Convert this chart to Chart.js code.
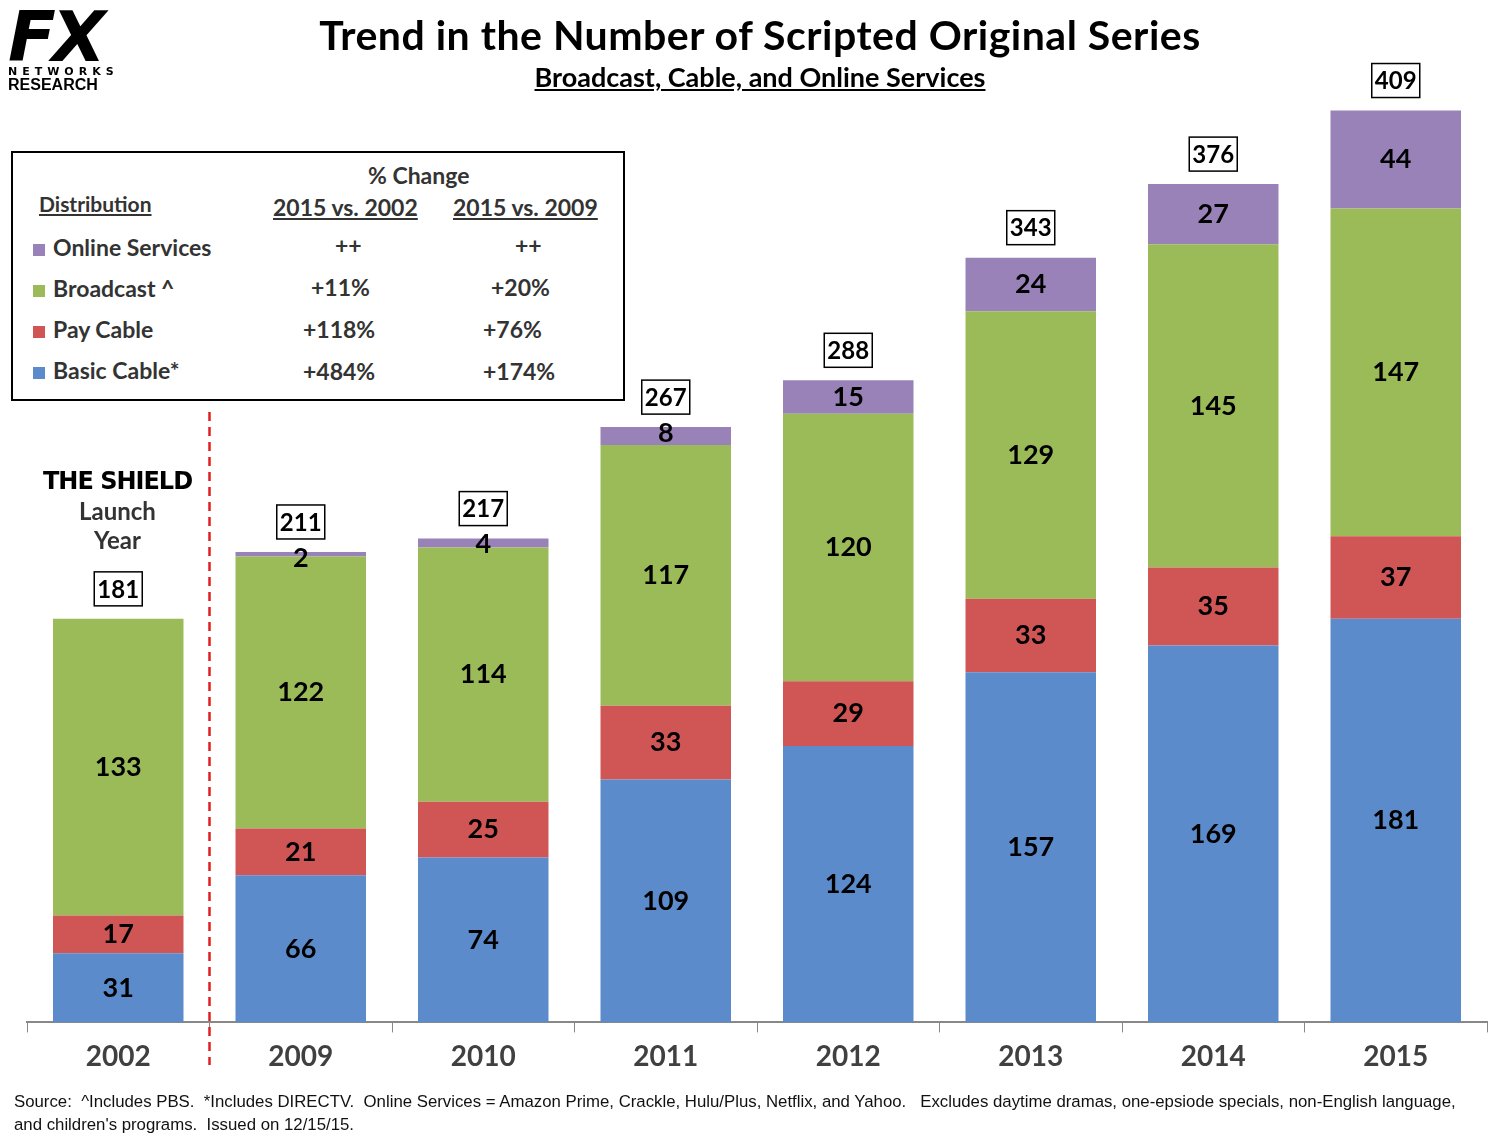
<!DOCTYPE html>
<html><head><meta charset="utf-8">
<script src="https://cdn.jsdelivr.net/npm/chart.js@4/dist/chart.umd.min.js"></script>
<style>
body{margin:0;width:1500px;height:1140px;background:#fff;font-family:Lato,"Open Sans",sans-serif;position:relative;overflow:hidden}
#c{position:absolute;left:0;top:0}
.abs{position:absolute}
#title{left:260px;width:1000px;top:10px;text-align:center;font-size:41px;font-weight:bold;color:#000;letter-spacing:0.5px}
#sub{left:260px;width:1000px;top:60px;text-align:center;font-size:27px;font-weight:bold;text-decoration:underline}
#logo{left:8px;top:2px;font-family:"DejaVu Sans";font-weight:900;line-height:1}
#tbl{left:11px;top:151px;width:610px;height:246px;border:2px solid #000;background:#fff;font-size:23px;font-weight:bold;color:#333}
#tbl div{position:absolute}
.u{text-decoration:underline}
.sq{display:inline-block;width:12px;height:12px;margin-right:8px}
#foot{left:14px;top:1090px;width:1480px;font-family:"Liberation Sans";font-size:16.8px;line-height:23px;color:#111}
#shield{left:30px;top:465px;width:175px;text-align:center;font-size:24px;font-weight:bold;color:#333;line-height:29px}
</style></head><body>
<canvas id="c" width="1500" height="1140"></canvas>
<div id="logo" class="abs"><div style="font-size:70px;letter-spacing:-4px;font-style:italic">FX</div><div style="font-size:11px;letter-spacing:5px;margin-top:-6px">NETWORKS</div><div style="font-size:16px;font-family:'Liberation Sans';font-weight:bold">RESEARCH</div></div>
<div id="title" class="abs">Trend in the Number of Scripted Original Series</div>
<div id="sub" class="abs">Broadcast, Cable, and Online Services</div>
<div id="tbl" class="abs">
<div style="left:355px;top:8px">% Change</div>
<div class="u" style="left:26px;top:38px;font-size:21px">Distribution</div>
<div class="u" style="left:260px;top:40px">2015 vs. 2002</div>
<div class="u" style="left:440px;top:40px">2015 vs. 2009</div>
<div style="left:20px;top:80px"><span class="sq" style="background:#9982B8"></span>Online Services</div>
<div style="left:20px;top:121px"><span class="sq" style="background:#9BBB59"></span>Broadcast ^</div>
<div style="left:20px;top:162px"><span class="sq" style="background:#D05555"></span>Pay Cable</div>
<div style="left:20px;top:203px"><span class="sq" style="background:#5B8BCB"></span>Basic Cable*</div>
<div style="left:322px;top:78px">++</div><div style="left:502px;top:78px">++</div>
<div style="left:298px;top:120px">+11%</div><div style="left:478px;top:120px">+20%</div>
<div style="left:290px;top:162px">+118%</div><div style="left:470px;top:162px">+76%</div>
<div style="left:290px;top:204px">+484%</div><div style="left:470px;top:204px">+174%</div>
</div>
<div id="shield" class="abs"><span style="color:#000;font-family:'DejaVu Sans';font-weight:900;letter-spacing:-1px">THE SHIELD</span><br>Launch<br>Year</div>
<div id="foot" class="abs">Source:&nbsp; ^Includes PBS.&nbsp; *Includes DIRECTV.&nbsp; Online Services = Amazon Prime, Crackle, Hulu/Plus, Netflix, and Yahoo.&nbsp;&nbsp; Excludes daytime dramas, one-epsiode specials, non-English language,<br>and children's programs.&nbsp; Issued on 12/15/15.</div>
<script>
const years=["2002","2009","2010","2011","2012","2013","2014","2015"];
const basicCable=[31,66,74,109,124,157,169,181];
const payCable=[17,21,25,33,29,33,35,37];
const broadcast=[133,122,114,117,120,129,145,147];
const online=[0,2,4,8,15,24,27,44];
const totals=[181,211,217,267,288,343,376,409];

const labelPlugin={id:'lbl',afterDatasetsDraw(ch){
  const c=ch.ctx;c.save();
  c.font='bold 27px Lato';c.fillStyle='#000';c.textAlign='center';c.textBaseline='middle';
  ch.data.datasets.forEach((ds,di)=>{
    ch.getDatasetMeta(di).data.forEach((b,i)=>{
      const v=ds.data[i]; if(!v) return;
      const top=Math.min(b.y,b.base),bot=Math.max(b.y,b.base);
      let y=(top+bot)/2; if(bot-top<25) y=top+6;
      c.fillText(v,b.x,y);
    });
  });
  const m=ch.getDatasetMeta(3);
  c.font='bold 24px Lato';
  totals.forEach((t,i)=>{
    const b=m.data[i]; const yTop=ch.scales.y.getPixelForValue(t);
    const cy=yTop-30;
    c.fillStyle='#fff';c.fillRect(b.x-24,cy-17,48,34);
    c.strokeStyle='#000';c.lineWidth=1.5;c.strokeRect(b.x-24,cy-17,48,34);
    c.fillStyle='#000';c.fillText(t,b.x,cy+1);
  });
  const xs=ch.scales.x; const xd=(xs.getPixelForValue(0)+xs.getPixelForValue(1))/2;
  c.strokeStyle='#E02020';c.lineWidth=2.5;c.setLineDash([9,6]);
  c.beginPath();c.moveTo(xd,412);c.lineTo(xd,1065);c.stroke();
  c.restore();
}};

new Chart(document.getElementById('c'),{type:'bar',
 data:{labels:years,datasets:[
  {label:'Basic Cable*',data:basicCable,backgroundColor:'#5B8BCB'},
  {label:'Pay Cable',data:payCable,backgroundColor:'#D05555'},
  {label:'Broadcast ^',data:broadcast,backgroundColor:'#9BBB59'},
  {label:'Online Services',data:online,backgroundColor:'#9982B8'}]},
 options:{responsive:false,animation:false,
  layout:{padding:{left:27,right:13,top:86,bottom:58}},
  datasets:{bar:{barPercentage:0.715,categoryPercentage:1,borderWidth:0}},
  plugins:{legend:{display:false},tooltip:{enabled:false}},
  scales:{
   x:{stacked:true,grid:{offset:true,drawOnChartArea:false,drawTicks:true,tickLength:10,color:'#888'},
      border:{color:'#888',width:2},
      ticks:{color:'#404040',font:{size:28,weight:'bold',family:'Lato'},padding:8}},
   y:{stacked:true,display:false,min:0,max:420}
  }},
 plugins:[labelPlugin]});
</script>
</body></html>
